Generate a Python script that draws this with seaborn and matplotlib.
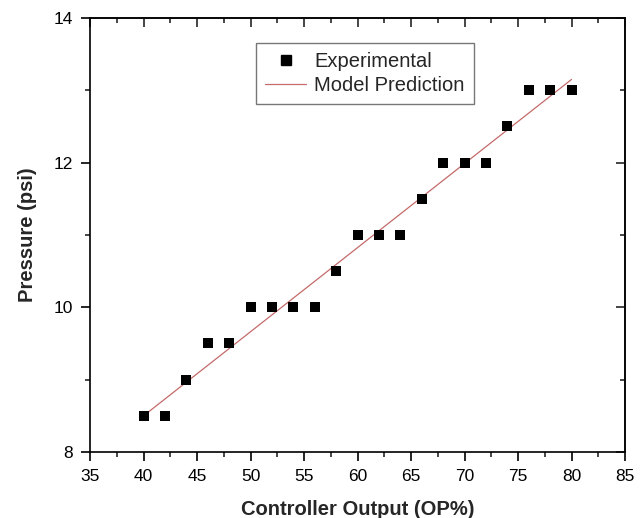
import matplotlib
matplotlib.use("Agg")
import matplotlib.pyplot as plt
import seaborn as sns
import pandas as pd
from matplotlib.ticker import MultipleLocator, NullFormatter
from matplotlib.lines import Line2D

op = [40, 42, 44, 46, 48, 50, 52, 54, 56, 58, 60, 62, 64, 66, 68, 70, 72, 74, 76, 78, 80]
pressure = [8.5, 8.5, 9.0, 9.5, 9.5, 10, 10, 10, 10, 10.5, 11, 11, 11, 11.5, 12, 12, 12, 12.5, 13, 13, 13]
model_x = [40, 80]
model_y = [8.5, 13.15]

sns.set_theme(style="ticks")
plt.rcParams['font.family'] = ['Liberation Sans', 'DejaVu Sans']

fig = plt.figure(figsize=(6.44, 5.18), dpi=100)
ax = fig.add_axes([0.1398, 0.1274, 0.9705 - 0.1398, 0.9653 - 0.1274])

df = pd.DataFrame({"op": op, "p": pressure})
mdf = pd.DataFrame({"x": model_x, "y": model_y})
line_color = "#c46a6a"
sns.lineplot(data=mdf, x="x", y="y", ax=ax, color=line_color, linewidth=0.9)
sns.scatterplot(data=df, x="op", y="p", ax=ax, marker="s", s=45, color="black",
                edgecolor="black", linewidth=0, zorder=3)

ax.set_xlim(35, 85)
ax.set_ylim(8, 14)
ax.xaxis.set_major_locator(MultipleLocator(5))
ax.xaxis.set_minor_locator(MultipleLocator(2.5))
ax.yaxis.set_major_locator(MultipleLocator(2))
ax.yaxis.set_minor_locator(MultipleLocator(1))

for s in ax.spines.values():
    s.set_visible(True)
    s.set_linewidth(1.2)
    s.set_color("black")

ax.tick_params(axis="both", which="major", direction="out", length=6.5, width=1.2,
               labelsize=12.5, colors="black", pad=6)
ax.tick_params(axis="both", which="minor", direction="out", length=3.5, width=1.2)
ax.tick_params(axis="x", which="both", top=False)
ax.tick_params(axis="y", which="both", right=False)

sx = ax.secondary_xaxis("top")
sx.xaxis.set_major_locator(MultipleLocator(5))
sx.xaxis.set_minor_locator(MultipleLocator(2.5))
sx.xaxis.set_major_formatter(NullFormatter())
sx.tick_params(which="major", direction="in", length=6.5, width=1.2)
sx.tick_params(which="minor", direction="in", length=3.5, width=1.2)
sy = ax.secondary_yaxis("right")
sy.yaxis.set_major_locator(MultipleLocator(2))
sy.yaxis.set_minor_locator(MultipleLocator(1))
sy.yaxis.set_major_formatter(NullFormatter())
sy.tick_params(which="major", direction="in", length=6.5, width=1.2)
sy.tick_params(which="minor", direction="in", length=3.5, width=1.2)
for s in list(sx.spines.values()) + list(sy.spines.values()):
    s.set_linewidth(1.2)

ax.set_xlabel("Controller Output (OP%)", fontsize=14.5, fontweight="bold", labelpad=11)
ax.set_ylabel("Pressure (psi)", fontsize=14.5, fontweight="bold", labelpad=12)

handles = [Line2D([], [], marker="s", linestyle="none", color="black", markersize=6.8),
           Line2D([], [], color=line_color, linewidth=0.9)]
leg = ax.legend(handles, ["Experimental", "Model Prediction"], loc="upper left",
                bbox_to_anchor=(0.310, 0.942), borderaxespad=0, fontsize=14.5,
                frameon=True, fancybox=False, edgecolor="#555555", handlelength=2.05,
                borderpad=0.45, labelspacing=0.25, handletextpad=0.4)
leg.get_frame().set_linewidth(1.0)

fig.savefig("out.png", dpi=100)
